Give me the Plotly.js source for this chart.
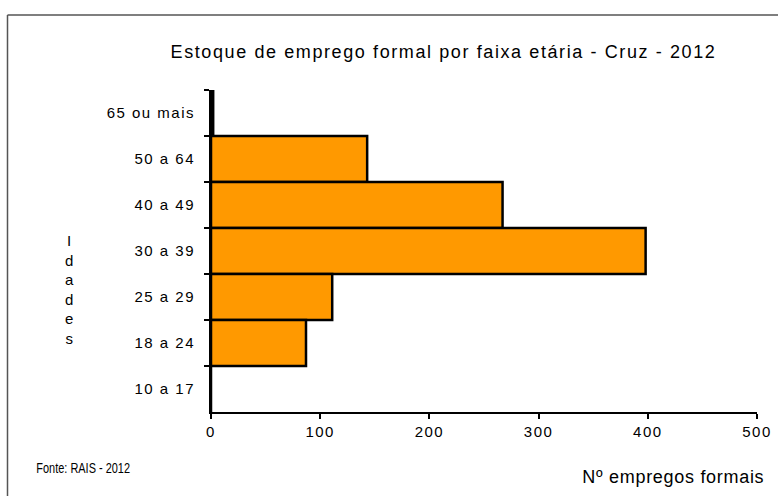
<!DOCTYPE html>
<html>
<head>
<meta charset="utf-8">
<script src="https://cdn.plot.ly/plotly-3.0.1.min.js"></script>
<style>
html,body{margin:0;padding:0;background:#fff;}
#chart{width:778px;height:496px;}
#chart .gtitle{letter-spacing:1.6px;}
#chart .xtick text, #chart .ytick text{letter-spacing:1.5px;}
#chart .annotation[data-index="1"] text{transform-box:fill-box;transform-origin:center;transform:scaleX(0.73);}
#chart .annotation[data-index="2"] text{letter-spacing:0.7px;}
</style>
</head>
<body>
<div id="chart"></div>
<script>
const categories = ["65 ou mais", "50 a 64", "40 a 49", "30 a 39", "25 a 29", "18 a 24", "10 a 17"];
const values = [2, 143, 267, 398, 111, 87, 0];
const xTicks = [0, 100, 200, 300, 400, 500];

const FONT = "Liberation Sans, Arial, sans-serif";

const trace = {
  type: "bar",
  orientation: "h",
  y: categories,
  x: values,
  width: 1,
  marker: { color: "#FF9900", line: { color: "#000000", width: 2.5 } },
  hoverinfo: "none"
};

const layout = {
  width: 778,
  height: 496,
  paper_bgcolor: "#ffffff",
  plot_bgcolor: "#ffffff",
  margin: { l: 211, r: 21, t: 90, b: 84 },
  showlegend: false,
  bargap: 0,
  title: {
    text: "Estoque de emprego formal por faixa etária - Cruz - 2012",
    font: { family: FONT, size: 18, color: "#000" },
    x: 0.570, xanchor: "center",
    y: 1 - 52 / 496, yanchor: "middle"
  },
  xaxis: {
    range: [0, 500],
    tickvals: xTicks,
    ticktext: xTicks.map(String),
    showgrid: false,
    zeroline: false,
    showline: true,
    linecolor: "#000",
    linewidth: 2,
    ticks: "outside",
    ticklen: 5,
    tickwidth: 2,
    tickcolor: "#000",
    tickfont: { family: FONT, size: 15, color: "#000" },
    fixedrange: true
  },
  yaxis: {
    type: "category",
    autorange: "reversed",
    showgrid: false,
    zeroline: false,
    showline: true,
    linecolor: "#000",
    linewidth: 2,
    ticks: "outside",
    tickson: "boundaries",
    ticklen: 5,
    tickwidth: 2,
    tickcolor: "#000",
    ticklabelstandoff: 11,
    tickfont: { family: FONT, size: 15, color: "#000" },
    fixedrange: true
  },
  annotations: [
    {
      text: "I<br>d<br>a<br>d<br>e<br>s",
      xref: "paper", yref: "paper",
      x: (70 - 211) / 546, y: (412 - 289) / 322,
      xanchor: "center", yanchor: "middle",
      showarrow: false,
      font: { family: FONT, size: 15, color: "#000" }
    },
    {
      text: "Fonte: RAIS - 2012",
      xref: "paper", yref: "paper",
      x: (82.5 - 211) / 546, y: (412 - 468) / 322,
      xanchor: "center", yanchor: "middle",
      showarrow: false,
      font: { family: FONT, size: 15, color: "#000" }
    },
    {
      text: "Nº empregos formais",
      xref: "paper", yref: "paper",
      x: (673.5 - 211) / 546, y: (412 - 477) / 322,
      xanchor: "center", yanchor: "middle",
      showarrow: false,
      font: { family: FONT, size: 18, color: "#000" }
    }
  ],
  shapes: [
    {
      type: "line", xref: "paper", yref: "paper",
      x0: (7.5 - 211) / 546, x1: (7.5 - 211) / 546,
      y0: (412 - 15) / 322, y1: (412 - 500) / 322,
      line: { color: "#555", width: 1.5 }
    },
    {
      type: "line", xref: "paper", yref: "paper",
      x0: (7.5 - 211) / 546, x1: (780 - 211) / 546,
      y0: (412 - 15) / 322, y1: (412 - 15) / 322,
      line: { color: "#555", width: 1.5 }
    }
  ]
};

Plotly.newPlot("chart", [trace], layout, { displayModeBar: false, staticPlot: true });
</script>
</body>
</html>
